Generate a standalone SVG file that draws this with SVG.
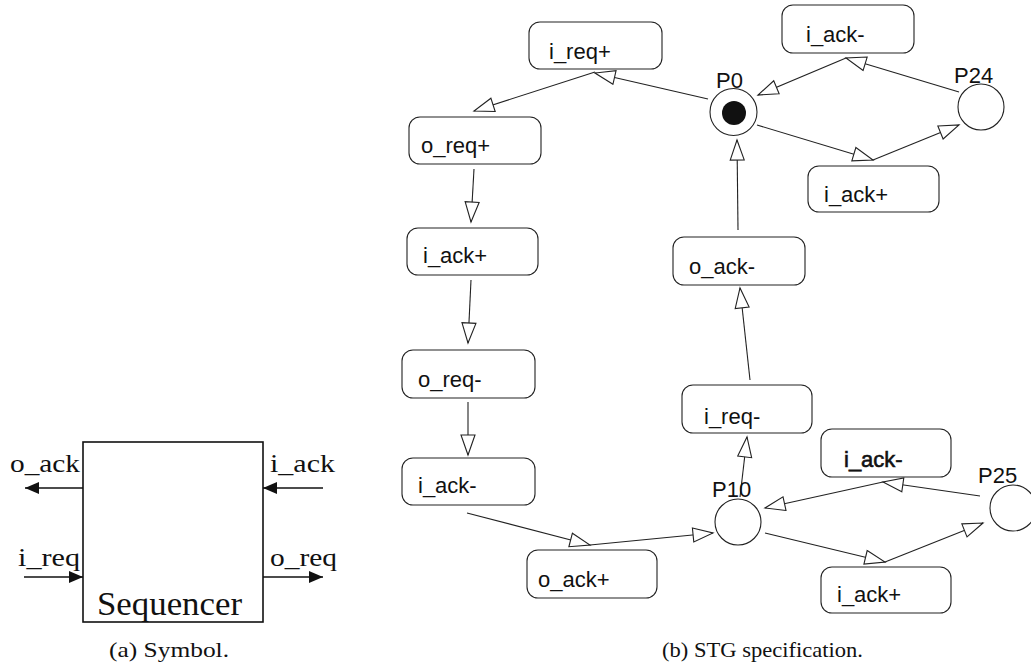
<svg xmlns="http://www.w3.org/2000/svg" width="1031" height="665" viewBox="0 0 1031 665">
  <style>
    .trans { fill: #fff; stroke: #222; stroke-width: 1.1; }
    .place { fill: #fff; stroke: #222; stroke-width: 1.1; }
    .lbl { font-family: "Liberation Sans", Arial, sans-serif; font-size: 22px; fill: #111; }
    .serif { font-family: "Liberation Serif", "Times New Roman", serif; fill: #111; }
    .arc { fill: none; stroke: #222; stroke-width: 1.1; marker-end: url(#open); }
    .port { fill: none; stroke: #111; stroke-width: 1.6; marker-end: url(#solid); }
  </style>
  <defs>
    <marker id="open" markerUnits="userSpaceOnUse" markerWidth="24" markerHeight="18" refX="21" refY="8" orient="auto" viewBox="0 0 24 18">
      <path d="M1,1 L21,8 L1,15 Z" fill="#fff" stroke="#222" stroke-width="1.1"/>
    </marker>
    <marker id="solid" markerUnits="userSpaceOnUse" markerWidth="16" markerHeight="14" refX="14" refY="6" orient="auto" viewBox="0 0 16 14">
      <path d="M0,0 L14,6 L0,12 Z" fill="#111"/>
    </marker>
  </defs>

  <!-- (a) Sequencer symbol -->
  <g id="sequencer">
    <rect x="83" y="442" width="180" height="180" fill="#fff" stroke="#111" stroke-width="1.6"/>
    <text class="serif" x="97" y="615" font-size="34" textLength="145" lengthAdjust="spacingAndGlyphs">Sequencer</text>
  </g>
  <g id="ports">
    <line class="port" x1="83" y1="488" x2="25" y2="488"/>
    <line class="port" x1="323" y1="488" x2="263" y2="488"/>
    <line class="port" x1="24" y1="577" x2="83" y2="577"/>
    <line class="port" x1="263" y1="577" x2="323" y2="577"/>
    <text class="serif" x="10" y="472" font-size="25" textLength="70" lengthAdjust="spacingAndGlyphs">o_ack</text>
    <text class="serif" x="270" y="472" font-size="25" textLength="65" lengthAdjust="spacingAndGlyphs">i_ack</text>
    <text class="serif" x="18" y="566" font-size="25" textLength="62" lengthAdjust="spacingAndGlyphs">i_req</text>
    <text class="serif" x="270" y="566" font-size="25" textLength="67" lengthAdjust="spacingAndGlyphs">o_req</text>
  </g>
  <text class="serif" x="109" y="657" font-size="21" textLength="120" lengthAdjust="spacingAndGlyphs">(a) Symbol.</text>

  <!-- (b) STG: arcs -->
  <g id="arcs">
    <line class="arc" x1="708" y1="99" x2="595" y2="73"/>
    <line class="arc" x1="595" y1="72" x2="474" y2="111"/>
    <line class="arc" x1="474" y1="169" x2="471" y2="222"/>
    <line class="arc" x1="471" y1="280" x2="468" y2="343"/>
    <line class="arc" x1="468" y1="402" x2="468" y2="455"/>
    <line class="arc" x1="467" y1="513" x2="590" y2="545"/>
    <line class="arc" x1="590" y1="545" x2="713" y2="533"/>
    <line class="arc" x1="740" y1="497" x2="747" y2="437"/>
    <line class="arc" x1="750" y1="380" x2="740" y2="288"/>
    <line class="arc" x1="738" y1="230" x2="737" y2="140"/>
    <line class="arc" x1="757" y1="125" x2="873" y2="160"/>
    <line class="arc" x1="873" y1="160" x2="959" y2="125"/>
    <line class="arc" x1="959" y1="92" x2="846" y2="58"/>
    <line class="arc" x1="846" y1="58" x2="758" y2="95"/>
    <line class="arc" x1="765" y1="533" x2="885" y2="562"/>
    <line class="arc" x1="885" y1="562" x2="983" y2="523"/>
    <line class="arc" x1="980" y1="496" x2="883" y2="482"/>
    <line class="arc" x1="883" y1="482" x2="765" y2="508"/>
  </g>

  <!-- transitions -->
  <g id="t_ireq_plus"><rect class="trans" x="529" y="22" width="133" height="47" rx="11"/><text class="lbl" x="549" y="59">i_req+</text></g>
  <g id="t_oreq_plus"><rect class="trans" x="409" y="117" width="132" height="47" rx="11"/><text class="lbl" x="421" y="153">o_req+</text></g>
  <g id="t_iack_plus_1"><rect class="trans" x="407" y="228" width="131" height="47" rx="11"/><text class="lbl" x="423" y="263">i_ack+</text></g>
  <g id="t_oreq_minus"><rect class="trans" x="402" y="350" width="133" height="48" rx="11"/><text class="lbl" x="418" y="387">o_req-</text></g>
  <g id="t_iack_minus_1"><rect class="trans" x="402" y="458" width="133" height="47" rx="11"/><text class="lbl" x="418" y="493">i_ack-</text></g>
  <g id="t_oack_plus"><rect class="trans" x="527" y="550" width="130" height="48" rx="11"/><text class="lbl" x="538" y="587">o_ack+</text></g>
  <g id="t_ireq_minus"><rect class="trans" x="682" y="385" width="130" height="48" rx="11"/><text class="lbl" x="704" y="424">i_req-</text></g>
  <g id="t_oack_minus"><rect class="trans" x="673" y="237" width="132" height="48" rx="11"/><text class="lbl" x="689" y="274">o_ack-</text></g>
  <g id="t_iack_minus_2"><rect class="trans" x="782" y="5" width="132" height="48" rx="11"/><text class="lbl" x="806" y="42">i_ack-</text></g>
  <g id="t_iack_plus_2"><rect class="trans" x="808" y="166" width="131" height="46" rx="11"/><text class="lbl" x="824" y="202">i_ack+</text></g>
  <g id="t_iack_minus_3"><rect class="trans" x="821" y="429" width="130" height="48" rx="11" stroke-width="2"/><text class="lbl" x="844" y="467" stroke="#111" stroke-width="0.6">i_ack-</text></g>
  <g id="t_iack_plus_3"><rect class="trans" x="821" y="567" width="130" height="46" rx="11"/><text class="lbl" x="837" y="602">i_ack+</text></g>

  <!-- places -->
  <g id="P0"><circle class="place" cx="733.5" cy="112" r="23.5"/><circle cx="734" cy="113" r="12" fill="#111"/><text class="lbl" x="716" y="88">P0</text></g>
  <g id="P24"><circle class="place" cx="981" cy="107" r="23"/><text class="lbl" x="954" y="83">P24</text></g>
  <g id="P10"><circle class="place" cx="738" cy="522" r="23"/><text class="lbl" x="712" y="497">P10</text></g>
  <g id="P25"><circle class="place" cx="1013" cy="508" r="23"/><text class="lbl" x="978" y="483">P25</text></g>

  <text class="serif" x="662" y="657" font-size="21" textLength="201" lengthAdjust="spacingAndGlyphs">(b) STG specification.</text>
</svg>
